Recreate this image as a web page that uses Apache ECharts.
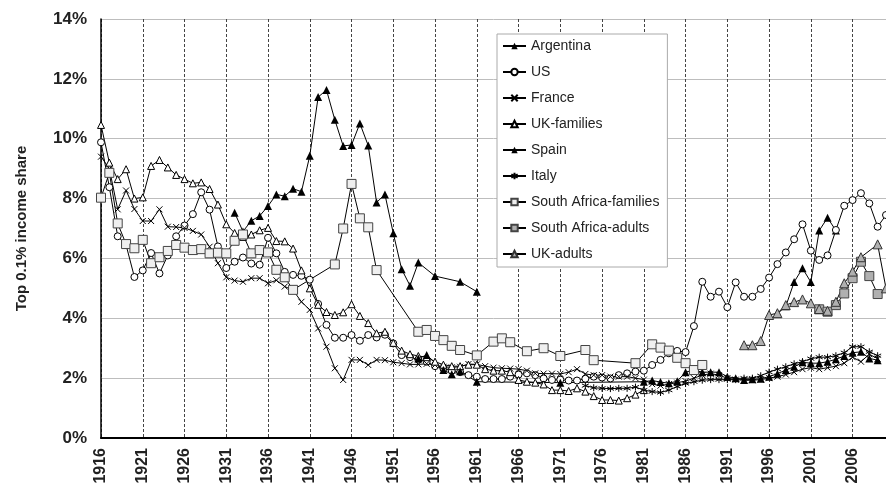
<!DOCTYPE html>
<html>
<head>
<meta charset="utf-8">
<script src="https://cdn.jsdelivr.net/npm/echarts@6/dist/echarts.min.js"></script>
<style>
html,body{margin:0;padding:0;background:#fff;}
#chart{width:886px;height:487px;}
</style>
</head>
<body>
<div id="chart"></div>
<script>
// ---------- DATA (values in %) ----------
const BASE_YEAR = 1916;
const tickYears = [1916,1921,1926,1931,1936,1941,1946,1951,1956,1961,1966,1971,1976,1981,1986,1991,1996,2001,2006];

const argentinaYears = [1932,1933,1934,1935,1936,1937,1938,1939,1940,1941,1942,1943,1944,1945,1946,1947,1948,1949,1950,1951,1952,1953,1954,1956,1959,1961,1962,1997,1998,1999,2000,2001,2002,2003,2004];
const argentinaVals  = [7.53,6.9,7.26,7.42,7.75,8.14,8.08,8.33,8.23,9.43,11.39,11.63,10.63,9.76,9.79,10.51,9.77,7.87,8.14,6.84,5.64,5.09,5.86,5.41,5.22,4.89,null,4.15,4.4,5.21,5.67,5.21,6.93,7.36,6.93];

const usYears = [];
for (let y = 1916; y <= 2010; y++) usYears.push(y);
const usVals = [9.88,8.38,6.74,6.45,5.38,5.6,6.18,5.5,6.1,6.74,
  7.1,7.48,8.21,7.63,6.4,5.68,5.89,6.03,5.83,5.79,
  6.69,6.17,5.55,5.45,5.42,5.29,4.48,3.78,3.35,3.35,
  3.44,3.25,3.44,3.36,3.45,3.16,2.77,2.7,2.62,2.55,
  2.4,2.32,2.25,2.2,2.1,2.05,1.97,1.97,1.97,2.05,
  2.12,2.16,2.1,1.99,1.94,1.95,1.92,1.92,1.98,2.05,
  2.02,1.99,2.1,2.16,2.22,2.25,2.44,2.61,2.83,2.91,
  2.87,3.74,5.22,4.72,4.89,4.37,5.2,4.72,4.72,4.98,
  5.36,5.81,6.2,6.64,7.14,6.26,5.95,6.1,6.95,7.76,
  7.95,8.18,7.84,7.06,7.45];

const franceYears = [];
for (let y = 1916; y <= 2009; y++) franceYears.push(y);
const franceVals = [9.4,9.0,7.64,8.27,7.65,7.25,7.25,7.64,7.06,7.05,
  7.02,6.92,6.8,6.39,5.84,5.37,5.26,5.22,5.34,5.34,
  5.17,5.27,5.06,4.94,4.55,4.28,3.66,3.05,2.33,1.94,
  2.61,2.61,2.44,2.61,2.6,2.53,2.5,2.46,2.46,2.48,
  2.44,2.38,2.36,2.38,2.47,2.46,2.4,2.35,2.33,2.32,
  2.3,2.25,2.16,2.15,2.15,2.14,2.2,2.3,2.14,2.1,
  2.1,2.05,2.05,2.05,2.0,1.95,1.8,1.75,1.8,1.85,
  1.9,2.0,2.1,2.15,2.1,2.0,1.95,1.93,1.93,1.95,
  2.0,2.05,2.12,2.2,2.3,2.35,2.3,2.35,2.4,2.5,
  2.7,2.55,2.8,2.65];

const ukFamYears = [];
for (let y = 1916; y <= 1981; y++) ukFamYears.push(y);
const ukFamVals = [10.46,9.2,8.65,8.98,8.0,8.04,9.09,9.29,9.04,8.79,
  8.65,8.51,8.54,8.32,7.8,7.14,6.85,6.72,6.8,6.94,
  7.02,6.58,6.57,6.33,5.6,5.0,4.45,4.21,4.11,4.2,
  4.47,4.08,3.84,3.5,3.55,3.18,2.92,2.8,2.74,2.7,
  2.55,2.45,2.4,2.4,2.45,2.45,2.3,2.25,2.25,2.2,
  1.94,1.88,1.85,1.79,1.6,1.6,1.57,1.66,1.55,1.4,
  1.27,1.27,1.25,1.33,1.45,1.6];

const spainYears = [1954,1955,1957,1958,1959,1961,1971,1981,1982,1983,1984,1985,1986,1987,1988,1989,1990,1991,1992,1993,1994,1995,1996,1997,1998,1999,2000,2001,2002,2003,2004,2005,2006,2007,2008,2009];
const spainVals  = [2.66,2.77,2.27,2.13,2.23,1.88,1.85,1.88,1.92,1.87,1.83,1.9,2.2,2.27,2.2,2.2,2.2,2.05,2.0,1.94,1.96,1.98,2.05,2.15,2.27,2.38,2.53,2.5,2.5,2.55,2.63,2.74,2.85,2.88,2.66,2.6];

const italyYears = [];
for (let y = 1974; y <= 2009; y++) italyYears.push(y);
const italyVals = [1.75,1.68,1.66,1.65,1.66,1.66,1.7,1.6,1.55,1.52,
  1.6,1.72,1.82,1.88,1.93,1.95,1.95,1.95,1.95,2.0,
  2.0,2.08,2.2,2.3,2.38,2.48,2.55,2.65,2.7,2.7,
  2.75,2.85,3.05,3.05,2.88,2.75];

const saFamYears = [1916,1917,1918,1919,1920,1921,1922,1923,1924,1925,1926,1927,1928,1929,1930,1931,1932,1933,1934,1935,1936,1937,1938,1939,1944,1945,1946,1947,1948,1949,1954,1955,1956,1957,1958,1959,1961,1963,1964,1965,1967,1969,1971,1974,1975,1980,1982,1983,1984,1985,1986,1987,1988];
const saFamVals  = [8.03,8.86,7.17,6.48,6.34,6.62,5.84,6.04,6.25,6.45,6.36,6.28,6.31,6.17,6.19,6.17,6.59,6.8,6.17,6.28,6.2,5.62,5.37,4.95,5.8,7.0,8.49,7.34,7.04,5.61,3.55,3.61,3.41,3.27,3.08,2.94,2.76,3.22,3.33,3.2,2.9,3.0,2.74,2.94,2.6,2.5,3.13,3.02,2.92,2.68,2.5,2.27,2.44];

const saAdultYears = [2002,2003,2004,2005,2006,2007,2008,2009];
const saAdultVals  = [4.3,4.22,4.44,4.83,5.34,5.89,5.41,4.81];

const ukAdultYears = [1993,1994,1995,1996,1997,1998,1999,2000,2001,2002,2003,2004,2005,2006,2007,2009,2010];
const ukAdultVals  = [3.1,3.1,3.24,4.11,4.17,4.44,4.54,4.63,4.5,4.31,4.25,4.55,5.17,5.56,6.04,6.47,5.0];

// ---------- CHART ----------
const FONT = '"Liberation Sans", Arial, sans-serif';
const pairs = (ys, vs) => ys.map((y, i) => [y - BASE_YEAR, vs[i]]);

function mk(name, ys, vs, symbol, size, fill, border, bw) {
  return {
    type: 'line', name: name, data: pairs(ys, vs),
    symbol: symbol, symbolSize: size, showAllSymbol: true,
    connectNulls: false,
    itemStyle: { color: fill, borderColor: border, borderWidth: bw },
    lineStyle: { color: '#000', width: 1 },
    emphasis: { disabled: true }
  };
}

const X_PATH = 'path://M0,0L10,10M10,0L0,10';
const AST_PATH = 'path://M5,0L5,10M0.7,2.5L9.3,7.5M0.7,7.5L9.3,2.5';

const series = [
  mk('Argentina', argentinaYears, argentinaVals, 'triangle', 8, '#000', '#000', 0),
  mk('US', usYears, usVals, 'circle', 7, '#fff', '#000', 1),
  mk('France', franceYears, franceVals, X_PATH, 6, '#000', '#000', 1),
  mk('UK-families', ukFamYears, ukFamVals, 'triangle', 7, '#fff', '#000', 1),
  mk('Spain', spainYears, spainVals, 'triangle', 8, '#000', '#000', 0),
  mk('Italy', italyYears, italyVals, AST_PATH, 7, '#000', '#000', 1),
  mk('South Africa-families', saFamYears, saFamVals, 'rect', 9, '#efefef', '#444', 1),
  mk('South Africa-adults', saAdultYears, saAdultVals, 'rect', 9, '#b0b0b0', '#444', 1),
  mk('UK-adults', ukAdultYears, ukAdultVals, 'triangle', 9, '#b0b0b0', '#333', 1)
];

const chart = echarts.init(document.getElementById('chart'), null, { renderer: 'canvas' });
chart.setOption({
  animation: false,
  backgroundColor: '#fff',
  textStyle: { fontFamily: FONT },
  grid: { left: 101, top: 19, width: 94 * 8.4, height: 419 },
  legend: {
    orient: 'vertical', left: 497, top: 34,
    padding: [5, 8, 6, 5],
    itemWidth: 23, itemHeight: 8, itemGap: 12,
    backgroundColor: '#fff', borderColor: '#aaa', borderWidth: 1,
    textStyle: { fontSize: 14, color: '#222', fontFamily: FONT },
    data: series.map(s => s.name)
  },
  xAxis: {
    type: 'value', min: 0, max: 94, interval: 5,
    axisLine: { show: true, onZero: false, lineStyle: { color: '#000', width: 2 } },
    axisTick: { show: false },
    axisLabel: {
      rotate: 90, margin: 10, fontSize: 16, fontWeight: 'bold', color: '#222', fontFamily: FONT,
      formatter: function (v) {
        const yr = v + BASE_YEAR;
        return tickYears.indexOf(yr) >= 0 ? String(yr) : '';
      }
    },
    splitLine: { show: true, lineStyle: { color: '#444', width: 1, type: [3, 2] } }
  },
  yAxis: {
    type: 'value', min: 0, max: 14, interval: 2,
    name: 'Top 0.1% income share', nameLocation: 'middle', nameGap: 72,
    nameTextStyle: { fontSize: 15, fontWeight: 'bold', color: '#222', fontFamily: FONT },
    axisLine: { show: true, lineStyle: { color: '#000', width: 1.5 } },
    axisTick: { show: false },
    axisLabel: { formatter: '{value}%', margin: 14, fontSize: 17, fontWeight: 'bold', color: '#222', fontFamily: FONT },
    splitLine: { show: true, lineStyle: { color: '#bdbdbd', width: 1 } }
  },
  series: series
});
</script>
</body>
</html>
